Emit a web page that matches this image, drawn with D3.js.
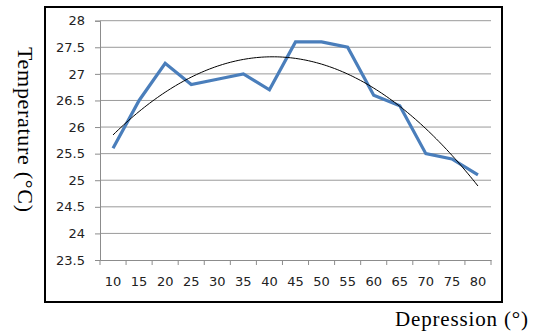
<!DOCTYPE html>
<html>
<head>
<meta charset="utf-8">
<script src="https://cdn.jsdelivr.net/npm/d3@7"></script>
<style>
  html, body { margin: 0; padding: 0; background: #fff; }
  svg { display: block; }
</style>
</head>
<body>
<svg id="chart" width="537" height="333"></svg>
<script>
// Surface temperature by depression angle
const depressions = ["10","15","20","25","30","35","40","45","50","55","60","65","70","75","80"];
const temperatures = [25.6, 26.5, 27.2, 26.8, 26.9, 27.0, 26.7, 27.6, 27.6, 27.5, 26.6, 26.4, 25.5, 25.4, 25.1];
const yTicks = [23.5, 24, 24.5, 25, 25.5, 26, 26.5, 27, 27.5, 28];

const svg = d3.select("#chart");

const plot = { left: 100, right: 491, top: 20.7, bottom: 260 };

const x = d3.scaleBand().domain(depressions).range([plot.left, plot.right]);
const y = d3.scaleLinear().domain([23.5, 28]).range([plot.bottom, plot.top]);
const cx = d => x(d) + x.bandwidth() / 2;

// outer chart border
svg.append("rect")
  .attr("x", 45).attr("y", 7).attr("width", 457).attr("height", 295)
  .attr("fill", "#fff").attr("stroke", "#000").attr("stroke-width", 2);

// horizontal gridlines
svg.append("g").selectAll("line").data(yTicks.slice(1)).join("line")
  .attr("x1", plot.left).attr("x2", plot.right)
  .attr("y1", d => y(d)).attr("y2", d => y(d))
  .attr("stroke", "#9a9a9a").attr("stroke-width", 1);

// y axis
const yAxis = svg.append("g")
  .attr("transform", `translate(${plot.left},0)`)
  .call(d3.axisLeft(y).tickValues(yTicks).tickSize(5).tickPadding(10).tickFormat(d3.format("")));
// x axis
const xAxis = svg.append("g")
  .attr("transform", `translate(0,${plot.bottom})`)
  .call(d3.axisBottom(x).tickSize(0).tickPadding(17));
// category boundary ticks
svg.append("g").selectAll("line").data(d3.range(depressions.length + 1)).join("line")
  .attr("x1", i => plot.left + i * x.step()).attr("x2", i => plot.left + i * x.step())
  .attr("y1", plot.bottom).attr("y2", plot.bottom + 5)
  .attr("stroke", "#8c8c8c");

[yAxis, xAxis].forEach(g => {
  g.select(".domain").attr("stroke", "#8c8c8c");
  g.selectAll(".tick line").attr("stroke", "#8c8c8c");
  g.selectAll("text").attr("font-family", "DejaVu Sans, sans-serif")
    .attr("font-size", 13).attr("fill", "#222");
});

// measured temperature line
const line = d3.line().x((d, i) => cx(depressions[i])).y(d => y(d));
svg.append("path").datum(temperatures)
  .attr("d", line)
  .attr("fill", "none").attr("stroke", "#4a7ebb").attr("stroke-width", 3.2)
  .attr("stroke-linejoin", "miter");

// quadratic least-squares trendline
(function () {
  const n = temperatures.length;
  const xs = d3.range(1, n + 1);
  let S = [0, 0, 0, 0, 0], T = [0, 0, 0];
  xs.forEach((xi, i) => {
    for (let k = 0; k < 5; k++) S[k] += Math.pow(xi, k);
    for (let k = 0; k < 3; k++) T[k] += temperatures[i] * Math.pow(xi, k);
  });
  const A = [[S[0], S[1], S[2], T[0]], [S[1], S[2], S[3], T[1]], [S[2], S[3], S[4], T[2]]];
  for (let c = 0; c < 3; c++) {
    for (let r = c + 1; r < 3; r++) {
      const f = A[r][c] / A[c][c];
      for (let k = c; k < 4; k++) A[r][k] -= f * A[c][k];
    }
  }
  const coef = [0, 0, 0];
  for (let r = 2; r >= 0; r--) {
    let s = A[r][3];
    for (let k = r + 1; k < 3; k++) s -= A[r][k] * coef[k];
    coef[r] = s / A[r][r];
  }
  const fit = t => coef[0] + coef[1] * t + coef[2] * t * t;
  const pts = d3.range(1, n + 0.001, 0.1).map(t => [t, fit(t)]);
  const xt = d3.scaleLinear().domain([1, n]).range([cx(depressions[0]), cx(depressions[n - 1])]);
  svg.append("path").datum(pts)
    .attr("d", d3.line().x(d => xt(d[0])).y(d => y(d[1])))
    .attr("fill", "none").attr("stroke", "#000").attr("stroke-width", 1);
})();

// axis titles
svg.append("text")
  .attr("transform", "translate(18,47) rotate(90)")
  .attr("text-anchor", "start")
  .attr("font-family", "Liberation Serif, Times New Roman, serif")
  .attr("font-size", 22).attr("fill", "#000")
  .attr("textLength", 165).attr("lengthAdjust", "spacing")
  .text("Temperature (°C)");

svg.append("text")
  .attr("x", 395).attr("y", 326)
  .attr("text-anchor", "start")
  .attr("font-family", "Liberation Serif, Times New Roman, serif")
  .attr("font-size", 21).attr("fill", "#000")
  .attr("textLength", 133).attr("lengthAdjust", "spacing")
  .text("Depression (°)");
</script>
</body>
</html>
